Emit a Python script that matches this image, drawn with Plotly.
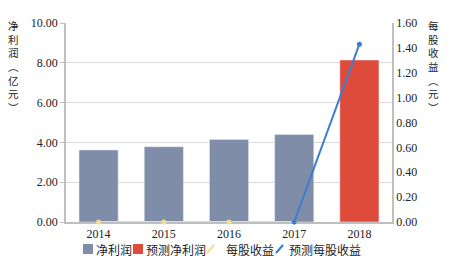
import plotly.graph_objects as go

years = ["2014", "2015", "2016", "2017", "2018"]
net_profit = [3.62, 3.78, 4.15, 4.40, None]
pred_profit = [None, None, None, None, 8.14]
eps = [0.0, 0.0, 0.0, 0.0, None]
pred_eps = [None, None, None, 0.0, 1.43]
left_title = "净利润︵亿元︶"
right_title = "每股收益︵元︶"

C_BAR = "#7F8DA8"
C_RED = "#DF4B3A"
C_YEL = "#F0DE96"
C_BLU = "#3B7ED0"

serif = "Liberation Serif"
cjk = "Noto Sans CJK SC"

W, H = 454, 268
L, R, T, B = 66, 62, 23, 46
PW, PH = W - L - R, H - T - B

def px(x):
    return (x - L) / PW

def py(y):
    return (H - B - y) / PH

fig = go.Figure()
fig.add_trace(go.Bar(x=years, y=net_profit, name="净利润", marker_color=C_BAR, width=0.6))
fig.add_trace(go.Bar(x=years, y=pred_profit, name="预测净利润", marker_color=C_RED, width=0.6))
fig.add_trace(go.Scatter(x=years, y=eps, name="每股收益", yaxis="y2", mode="lines+markers",
                         line=dict(color=C_YEL, width=2), marker=dict(size=5, color=C_YEL), cliponaxis=False))
fig.add_trace(go.Scatter(x=years, y=pred_eps, name="预测每股收益", yaxis="y2", mode="lines+markers",
                         line=dict(color=C_BLU, width=2), marker=dict(size=5, color=C_BLU), cliponaxis=False))

tickfont = dict(family=serif, size=12, color="#222")
fig.update_layout(
    width=W, height=H,
    margin=dict(l=L, r=R, t=T, b=B, autoexpand=False),
    plot_bgcolor="white", paper_bgcolor="white",
    barmode="overlay",
    showlegend=False,
    xaxis=dict(type="category", showline=True, linecolor="#BFBFBF", linewidth=1.5,
               tickfont=tickfont, ticks="", showgrid=False, layer="below traces"),
    yaxis=dict(range=[0, 10], tickvals=[0, 2, 4, 6, 8, 10],
               ticktext=["0.00", "2.00", "4.00", "6.00", "8.00", "10.00"],
               showline=True, linecolor="#BFBFBF", linewidth=1.5, gridcolor="#D9D9D9",
               tickfont=tickfont, ticks="outside", ticklen=4, tickcolor="#BFBFBF",
               zeroline=False, layer="below traces"),
    yaxis2=dict(range=[0, 1.6], overlaying="y", side="right",
                tickvals=[0, 0.2, 0.4, 0.6, 0.8, 1.0, 1.2, 1.4, 1.6],
                ticktext=["0.00", "0.20", "0.40", "0.60", "0.80", "1.00", "1.20", "1.40", "1.60"],
                showline=True, linecolor="#BFBFBF", linewidth=1.5, showgrid=False,
                tickfont=tickfont, zeroline=False, layer="below traces"),
)

# vertical axis titles, one character per line
for title, xpos in ((left_title, 13), (right_title, 433)):
    fig.add_annotation(text="<br>".join(title), xref="paper", yref="paper", x=px(xpos), y=py(16),
                       xanchor="center", yanchor="top", showarrow=False,
                       font=dict(family=cjk, size=10.5, color="#222"))

# legend (drawn manually for compact layout)
ly = 249
legend_items = [
    ("rect", C_BAR, 83, "净利润", 94),
    ("rect", C_RED, 133, "预测净利润", 144),
    ("line", C_YEL, 207, "每股收益", 224),
    ("line", C_BLU, 276, "预测每股收益", 287),
]
for kind, col, sx, label, tx in legend_items:
    if kind == "rect":
        fig.add_shape(type="rect", xref="paper", yref="paper", x0=px(sx), x1=px(sx + 10),
                      y0=py(ly + 5), y1=py(ly - 5), fillcolor=col, line=dict(width=0))
    else:
        fig.add_shape(type="line", xref="paper", yref="paper", x0=px(sx), x1=px(sx + 7),
                      y0=py(ly + 4), y1=py(ly - 4), line=dict(color=col, width=2))
    fig.add_annotation(text=label, xref="paper", yref="paper", x=px(tx), y=py(ly),
                       xanchor="left", yanchor="middle", showarrow=False,
                       font=dict(family=cjk, size=12, color="#222"))

fig.write_html("out.html")
